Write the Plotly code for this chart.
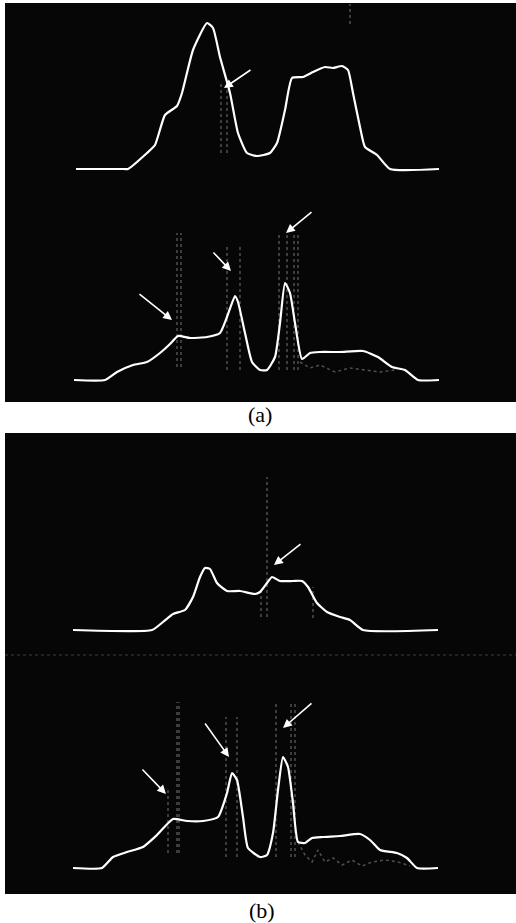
import plotly.graph_objects as go

W, H = 516, 923

# ---------------- data (position, intensity a.u.) ----------------
# (a) upper trace
pos_a1 = [76, 124, 128, 147, 155, 165, 177, 182, 193, 207, 213, 220, 230, 238, 247, 257, 270, 277,
          285, 292, 303, 313, 325, 333, 342, 348, 353, 360, 365, 377, 390, 439]
int_a1 = [0, 0, 0, 16, 24, 54, 63, 76, 119, 146, 141, 112, 76, 36, 16, 13, 16, 26,
          59, 91, 92, 97, 102, 101, 103, 99, 76, 42, 22, 14, 0, 0]
# (a) lower trace
pos_a2 = [74, 105, 117, 133, 147, 160, 170, 178, 190, 207, 220, 227, 235, 238, 245, 252, 260, 267,
          275, 280, 285, 290, 295, 302, 310, 320, 340, 363, 378, 392, 405, 418, 439]
int_a2 = [0, 0, 8, 15, 18, 27, 36, 44, 42, 43, 47, 63, 84, 78, 47, 18, 10, 10,
          23, 57, 97, 87, 57, 21, 27, 28, 28, 29, 23, 13, 10, 0, 0]
# (b) upper trace
pos_b1 = [73, 152, 163, 173, 185, 193, 200, 205, 210, 217, 227, 240, 255, 260, 267, 272, 280, 293,
          302, 308, 317, 327, 340, 350, 363, 438]
int_b1 = [0, 0, 8, 16, 20, 33, 53, 62, 61, 47, 39, 39, 36, 38, 47, 53, 49, 49,
          49, 43, 27, 18, 13, 10, 0, 0]
# (b) lower trace
pos_b2 = [73, 102, 113, 127, 143, 157, 173, 187, 203, 218, 227, 232, 237, 243, 248, 260, 267, 273,
          278, 283, 288, 293, 298, 305, 312, 323, 340, 360, 370, 380, 397, 407, 417, 438]
int_b2 = [0, 0, 11, 16, 21, 33, 49, 47, 47, 51, 75, 95, 88, 51, 20, 11, 13, 35,
          78, 111, 101, 65, 26, 25, 30, 31, 32, 34, 28, 18, 15, 10, 0, 0]

# gray reference spikes: position, top, bottom
spk_a1_pos = [221, 227, 350]
spk_a1_top = [86, 86, 165]
spk_a1_bot = [16, 16, 145]
spk_a2_pos = [177, 181, 227, 240, 279, 287, 294, 298]
spk_a2_top = [147, 147, 133, 133, 147, 147, 147, 147]
spk_a2_bot = [13, 13, 10, 10, 10, 10, 10, 10]
spk_b1_pos = [261, 267, 313]
spk_b1_top = [40, 153, 43]
spk_b1_bot = [13, 13, 12]
spk_b2_pos = [168, 177, 179, 226, 237, 276, 291, 295]
spk_b2_top = [81, 166, 166, 151, 151, 166, 166, 166]
spk_b2_bot = [15, 15, 15, 11, 11, 11, 11, 11]

# gray noisy tails under right plateau
tail_a2_pos = [300, 310, 320, 335, 350, 365, 380, 395]
tail_a2_int = [18, 12, 15, 8, 12, 10, 8, 10]
tail_b2_pos = [298, 305, 312, 318, 325, 333, 342, 352, 362, 372, 385, 398, 410]
tail_b2_int = [26, 13, 6, 18, 6, 10, 3, 8, 2, 6, 8, 6, 2]

# arrows: (tail_x, tail_y, head_x, head_y)
arr_a1 = [(252, 100, 224, 81)]
arr_a2 = [(138, 87, 172, 60), (212, 129, 231, 109), (313, 169, 286, 147)]
arr_b1 = [(302, 87, 274, 65)]
arr_b2 = [(141, 100, 166, 74), (204, 146, 229, 111), (313, 166, 283, 140)]

captions = ["(a)", "(b)"]

# ---------------- layout helpers ----------------
def pdom(top, bot):
    return [1 - bot / H, 1 - top / H]

# (rows top, rows bottom, baseline row)
panels = {
    "y": (3, 200, 169),
    "y2": (200, 402, 380),
    "y3": (433, 655, 630),
    "y4": (655, 894, 868),
}

fig = go.Figure()

def spikes(pos, top, bot):
    xs, ys = [], []
    for p, t, b in zip(pos, top, bot):
        xs += [p, p, None]
        ys += [b, t, None]
    return xs, ys

gray = "rgba(140,140,140,0.55)"
sets = [
    ("y", pos_a1, int_a1, (spk_a1_pos, spk_a1_top, spk_a1_bot), None),
    ("y2", pos_a2, int_a2, (spk_a2_pos, spk_a2_top, spk_a2_bot), (tail_a2_pos, tail_a2_int)),
    ("y3", pos_b1, int_b1, (spk_b1_pos, spk_b1_top, spk_b1_bot), None),
    ("y4", pos_b2, int_b2, (spk_b2_pos, spk_b2_top, spk_b2_bot), (tail_b2_pos, tail_b2_int)),
]
for ya, px, iy, spk, tail in sets:
    sx, sy = spikes(*spk)
    fig.add_trace(go.Scatter(x=sx, y=sy, mode="lines", yaxis=ya, xaxis="x",
                             line=dict(color=gray, width=1.5, dash="dot"),
                             hoverinfo="skip", showlegend=False))
    if tail:
        fig.add_trace(go.Scatter(x=tail[0], y=tail[1], mode="lines", yaxis=ya, xaxis="x",
                                 line=dict(color=gray, width=1.5, dash="dot"),
                                 hoverinfo="skip", showlegend=False))
    fig.add_trace(go.Scatter(x=px, y=iy, mode="lines", yaxis=ya, xaxis="x",
                             line=dict(color="white", width=2.2, shape="spline", smoothing=0.5),
                             showlegend=False))

annotations = []
for ya, arrs in [("y", arr_a1), ("y2", arr_a2), ("y3", arr_b1), ("y4", arr_b2)]:
    for tx, ty, hx, hy in arrs:
        annotations.append(dict(x=hx, y=hy, xref="x", yref=ya, ax=tx, ay=ty,
                                axref="x", ayref=ya, text="", showarrow=True,
                                arrowhead=2, arrowsize=1.1, arrowwidth=1.6,
                                arrowcolor="white", standoff=0, startstandoff=0))
cap_font = dict(family="Liberation Serif, Times New Roman, serif", size=22, color="black")
annotations.append(dict(x=260 / W, y=1 - 414 / H, xref="paper", yref="paper", text=captions[0],
                        xanchor="center", yanchor="middle", showarrow=False, font=cap_font))
annotations.append(dict(x=262 / W, y=1 - 910 / H, xref="paper", yref="paper", text=captions[1],
                        xanchor="center", yanchor="middle", showarrow=False, font=cap_font))

shapes = [
    dict(type="rect", xref="paper", yref="paper", x0=5 / W, x1=1, y0=1 - 402 / H, y1=1 - 3 / H,
         fillcolor="#060606", line=dict(width=0), layer="below"),
    dict(type="rect", xref="paper", yref="paper", x0=5 / W, x1=1, y0=1 - 894 / H, y1=1 - 433 / H,
         fillcolor="#060606", line=dict(width=0), layer="below"),
    dict(type="line", xref="paper", yref="paper", x0=5 / W, x1=1, y0=1 - 655 / H, y1=1 - 655 / H,
         line=dict(color="rgba(120,120,120,0.5)", width=1, dash="dot"), layer="below"),
]

axis_common = dict(visible=False, showgrid=False, zeroline=False, fixedrange=True)
layout = dict(
    width=W, height=H, margin=dict(l=0, r=0, t=0, b=0),
    paper_bgcolor="white", plot_bgcolor="rgba(0,0,0,0)",
    xaxis=dict(domain=[0, 1], range=[0, W], anchor="y", **axis_common),
    shapes=shapes, annotations=annotations, showlegend=False,
)
for key, (top, bot, base) in panels.items():
    name = "yaxis" if key == "y" else "yaxis" + key[1:]
    layout[name] = dict(domain=pdom(top, bot), range=[base - bot, base - top],
                        anchor="x", **axis_common)
fig.update_layout(**layout)

fig.write_html("out.html")
